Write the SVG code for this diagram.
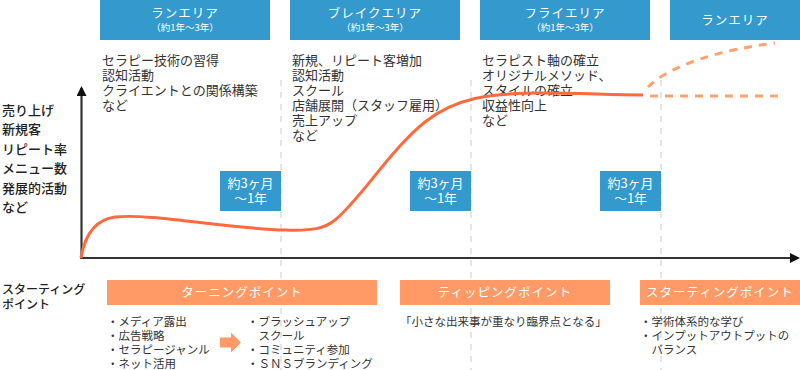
<svg xmlns="http://www.w3.org/2000/svg" width="800" height="370" viewBox="0 0 800 370">
<style>
text{font-family:"Noto Sans CJK JP","Noto Sans",sans-serif;fill:#333}
.hd{fill:#3499cc}
.ob{fill:#ff9966}
.t{font-size:13px}
.h{font-size:12.5px;fill:#fff;text-anchor:middle;letter-spacing:1px}
.s{font-size:9.5px;fill:#fff;text-anchor:middle}
.y{font-size:13px;font-weight:500;fill:#222}
.b{font-size:11.5px}
.c{font-size:13px;fill:#fff;text-anchor:middle}
.vd{stroke:#ddd;stroke-width:1.5;stroke-dasharray:6 6;fill:none}
.ax{stroke:#333;stroke-width:2.2;fill:none}
</style>
<defs>
<marker id="ah" markerWidth="10" markerHeight="10" refX="8" refY="5" orient="auto" markerUnits="userSpaceOnUse"><path d="M0,0 L10,5 L0,10 Z" fill="#111"/></marker>
</defs>

<g id="gridlines">
<line class="vd" x1="281" y1="80" x2="281" y2="370"/>
<line class="vd" x1="471" y1="80" x2="471" y2="370"/>
<line class="vd" x1="661" y1="80" x2="661" y2="370"/>
</g>

<g id="header-run1">
<rect class="hd" x="100" y="0" width="170" height="40"/>
<text class="h" x="185" y="18">ランエリア</text>
<text class="s" x="185" y="31">（約1年～3年）</text>
</g>
<g id="header-break">
<rect class="hd" x="290" y="0" width="170" height="40"/>
<text class="h" x="375" y="18">ブレイクエリア</text>
<text class="s" x="375" y="31">（約1年～3年）</text>
</g>
<g id="header-fly">
<rect class="hd" x="480" y="0" width="170" height="40"/>
<text class="h" x="565" y="18">フライエリア</text>
<text class="s" x="565" y="31">（約1年～3年）</text>
</g>
<g id="header-run2">
<rect class="hd" x="670" y="0" width="130" height="40"/>
<text class="h" x="735" y="24.5">ランエリア</text>
</g>

<g id="desc-run1">
<text class="t" x="102" y="64.5">セラピー技術の習得</text>
<text class="t" x="102" y="79.5">認知活動</text>
<text class="t" x="102" y="94.5">クライエントとの関係構築</text>
<text class="t" x="102" y="109.5">など</text>
</g>
<g id="desc-break">
<text class="t" x="292" y="64.5">新規、リピート客増加</text>
<text class="t" x="292" y="79.5">認知活動</text>
<text class="t" x="292" y="94.5">スクール</text>
<text class="t" x="292" y="109.5">店舗展開（スタッフ雇用）</text>
<text class="t" x="292" y="124.5">売上アップ</text>
<text class="t" x="292" y="139.5">など</text>
</g>
<g id="desc-fly">
<text class="t" x="482" y="64.5">セラピスト軸の確立</text>
<text class="t" x="482" y="79.5">オリジナルメソッド、</text>
<text class="t" x="482" y="94.5">スタイルの確立</text>
<text class="t" x="482" y="109.5">収益性向上</text>
<text class="t" x="482" y="124.5">など</text>
</g>

<g id="y-labels">
<text class="y" x="2" y="114.5">売り上げ</text>
<text class="y" x="2" y="134">新規客</text>
<text class="y" x="2" y="153.5">リピート率</text>
<text class="y" x="2" y="173">メニュー数</text>
<text class="y" x="2" y="192.5">発展的活動</text>
<text class="y" x="2" y="212">など</text>
</g>

<g id="period1">
<rect class="hd" x="220" y="171" width="61" height="40"/>
<text class="c" x="250.5" y="187.5">約3ヶ月</text>
<text class="c" x="250.5" y="203">～1年</text>
</g>
<g id="period2">
<rect class="hd" x="410" y="171" width="61" height="40"/>
<text class="c" x="440.5" y="187.5">約3ヶ月</text>
<text class="c" x="440.5" y="203">～1年</text>
</g>
<g id="period3">
<rect class="hd" x="600" y="171" width="61" height="40"/>
<text class="c" x="630.5" y="187.5">約3ヶ月</text>
<text class="c" x="630.5" y="203">～1年</text>
</g>

<g id="connectors">
<path class="ax" d="M81.5,259 L81.5,88" marker-end="url(#ah)"/>
<path class="ax" d="M80.5,258 L798,258" marker-end="url(#ah)"/>
<path d="M81,258 C84,240 92,220 115,217 C150,213 230,229 285,230 C315,231 325,228 335,220 C360,200 390,150 425,122 C455,98 490,93 540,93 C580,93 610,95 643,95" fill="none" stroke="#ff6a3d" stroke-width="3"/>
<path d="M648,87 C670,65 720,50 775,43" fill="none" stroke="#ffa070" stroke-width="3" stroke-dasharray="8 7"/>
<path d="M650,96 L785,96" fill="none" stroke="#ffa070" stroke-width="3" stroke-dasharray="8 7"/>
<path d="M220,337.5 L231,337.5 L231,332.5 L241,342.5 L231,352.5 L231,347.5 L220,347.5 Z" fill="#ff9966"/>
</g>

<g id="start-label">
<text class="y" x="2" y="293.5" style="font-size:12px">スターティング</text>
<text class="y" x="2" y="309" style="font-size:12px">ポイント</text>
</g>

<g id="turning">
<rect class="ob" x="107" y="280" width="270" height="25"/>
<text class="h" x="242" y="297">ターニングポイント</text>
<text class="b" x="107" y="326">・メディア露出</text>
<text class="b" x="107" y="340">・広告戦略</text>
<text class="b" x="107" y="354">・セラピージャンル</text>
<text class="b" x="107" y="368">・ネット活用</text>
<text class="b" x="247" y="326">・ブラッシュアップ</text>
<text class="b" x="258.5" y="340">スクール</text>
<text class="b" x="247" y="354">・コミュニティ参加</text>
<text class="b" x="247" y="368">・ＳＮＳブランディング</text>
</g>
<g id="tipping">
<rect class="ob" x="400" y="280" width="210" height="25"/>
<text class="h" x="505" y="297">ティッピングポイント</text>
<text class="b" x="400" y="326">「小さな出来事が重なり臨界点となる」</text>
</g>
<g id="starting">
<rect class="ob" x="640" y="280" width="160" height="25"/>
<text class="h" x="720" y="297">スターティングポイント</text>
<text class="b" x="640" y="326">・学術体系的な学び</text>
<text class="b" x="640" y="340">・インプットアウトプットの</text>
<text class="b" x="651.5" y="354">バランス</text>
</g>
</svg>
